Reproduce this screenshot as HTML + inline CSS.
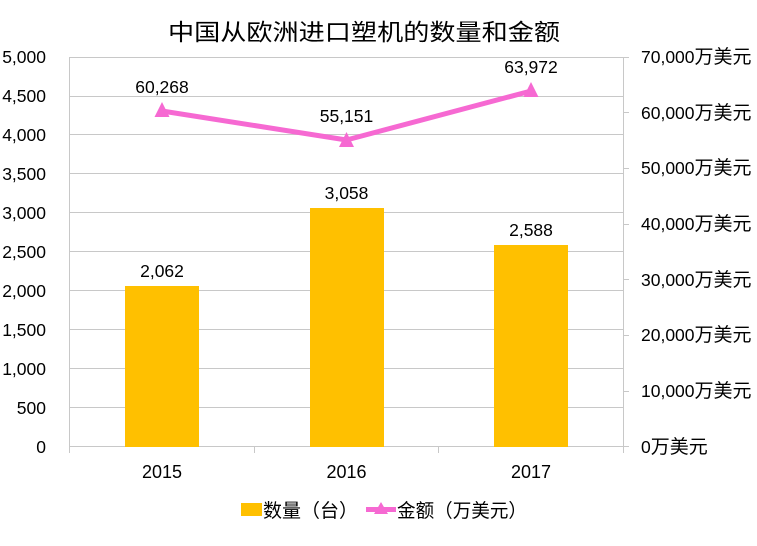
<!DOCTYPE html>
<html><head><meta charset="utf-8"><style>
html,body{margin:0;padding:0;background:#fff;}
svg{display:block;}
text{font-family:"Liberation Sans","Noto Sans CJK SC",sans-serif;fill:#000;}
</style></head><body>
<svg width="757" height="546" viewBox="0 0 757 546" xmlns="http://www.w3.org/2000/svg">
<rect width="757" height="546" fill="#fff"/>
<text x="364" y="40" font-size="23" text-anchor="middle" textLength="392" lengthAdjust="spacingAndGlyphs" font-family="Noto Sans CJK SC, sans-serif">中国从欧洲进口塑机的数量和金额</text>
<g stroke="#C8C8C8" stroke-width="1">
<line x1="70" y1="57.5" x2="623" y2="57.5"/>
<line x1="70" y1="96.5" x2="623" y2="96.5"/>
<line x1="70" y1="134.5" x2="623" y2="134.5"/>
<line x1="70" y1="173.5" x2="623" y2="173.5"/>
<line x1="70" y1="212.5" x2="623" y2="212.5"/>
<line x1="70" y1="251.5" x2="623" y2="251.5"/>
<line x1="70" y1="290.5" x2="623" y2="290.5"/>
<line x1="70" y1="329.5" x2="623" y2="329.5"/>
<line x1="70" y1="368.5" x2="623" y2="368.5"/>
<line x1="70" y1="407.5" x2="623" y2="407.5"/>
<line x1="70" y1="446.5" x2="623" y2="446.5"/>
<line x1="69.5" y1="57" x2="69.5" y2="453"/>
<line x1="254.5" y1="447" x2="254.5" y2="453"/>
<line x1="438.5" y1="447" x2="438.5" y2="453"/>
<line x1="623.5" y1="57" x2="623.5" y2="453"/>
<line x1="623" y1="57.5" x2="629" y2="57.5"/>
<line x1="623" y1="112.5" x2="629" y2="112.5"/>
<line x1="623" y1="168.5" x2="629" y2="168.5"/>
<line x1="623" y1="224.5" x2="629" y2="224.5"/>
<line x1="623" y1="279.5" x2="629" y2="279.5"/>
<line x1="623" y1="335.5" x2="629" y2="335.5"/>
<line x1="623" y1="391.5" x2="629" y2="391.5"/>
<line x1="623" y1="446.5" x2="629" y2="446.5"/>
</g>
<g fill="#FFC000">
<rect x="125" y="286" width="74" height="161"/>
<rect x="310" y="208" width="74" height="239"/>
<rect x="494" y="245" width="74" height="202"/>
</g>
<g font-size="17.5" text-anchor="end">
<text x="46" y="63">5,000</text>
<text x="46" y="102">4,500</text>
<text x="46" y="141">4,000</text>
<text x="46" y="180">3,500</text>
<text x="46" y="219">3,000</text>
<text x="46" y="258">2,500</text>
<text x="46" y="297">2,000</text>
<text x="46" y="336">1,500</text>
<text x="46" y="375">1,000</text>
<text x="46" y="414">500</text>
<text x="46" y="453">0</text>
</g>
<g font-size="17.5">
<text x="641" y="63">70,000<tspan font-size="19">万美元</tspan></text>
<text x="641" y="119">60,000<tspan font-size="19">万美元</tspan></text>
<text x="641" y="174">50,000<tspan font-size="19">万美元</tspan></text>
<text x="641" y="230">40,000<tspan font-size="19">万美元</tspan></text>
<text x="641" y="286">30,000<tspan font-size="19">万美元</tspan></text>
<text x="641" y="341">20,000<tspan font-size="19">万美元</tspan></text>
<text x="641" y="397">10,000<tspan font-size="19">万美元</tspan></text>
<text x="641" y="453">0<tspan font-size="19">万美元</tspan></text>
</g>
<g font-size="18" text-anchor="middle">
<text x="162" y="478">2015</text>
<text x="346.5" y="478">2016</text>
<text x="531" y="478">2017</text>
</g>
<g font-size="17.5" text-anchor="middle">
<text x="162" y="277">2,062</text>
<text x="346.5" y="199">3,058</text>
<text x="531" y="236">2,588</text>
<text x="162" y="93">60,268</text>
<text x="346.5" y="122">55,151</text>
<text x="531" y="73">63,972</text>
</g>
<polyline points="162,111 346.5,140 531,91" fill="none" stroke="#F669D2" stroke-width="5" stroke-linejoin="round"/>
<g fill="#F669D2">
<polygon points="162,102 169.5,117 154.5,117"/>
<polygon points="346.5,132 354,147 339,147"/>
<polygon points="531,82 538.5,97 523.5,97"/>
</g>
<rect x="241" y="503" width="21" height="13" fill="#FFC000"/>
<text x="263" y="517" font-size="19" textLength="95" lengthAdjust="spacingAndGlyphs">数量（台）</text>
<line x1="366" y1="509.5" x2="396" y2="509.5" stroke="#F669D2" stroke-width="5"/>
<polygon points="381,502 388,514 374,514" fill="#F669D2"/>
<text x="397" y="517" font-size="19" textLength="130" lengthAdjust="spacingAndGlyphs">金额（万美元）</text>
</svg>
</body></html>
